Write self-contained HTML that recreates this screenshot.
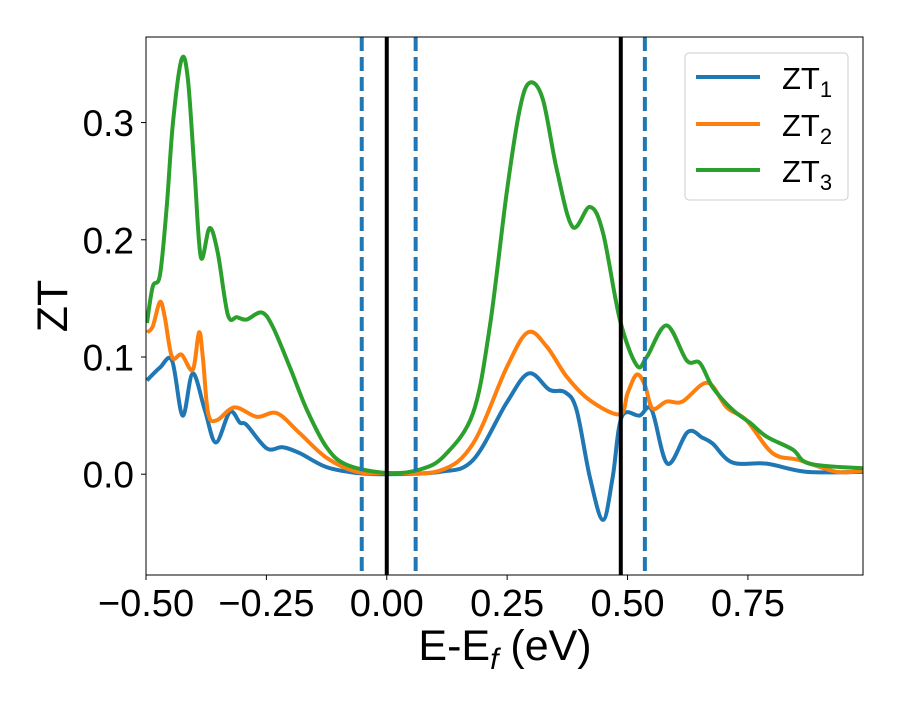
<!DOCTYPE html>
<html><head><meta charset="utf-8"><style>
body{margin:0;background:#fff}
svg{font-family:"Liberation Sans","DejaVu Sans",sans-serif}
</style></head><body>
<svg id="chart" width="900" height="700" viewBox="0 0 900 700" xmlns="http://www.w3.org/2000/svg">
<rect width="900" height="700" fill="#fff"/>
<g id="plot"></g>
</svg>
<script>
const xTicks=[-0.5,-0.25,0,0.25,0.5,0.75];
const xTickLabels=["\u22120.50","\u22120.25","0.00","0.25","0.50","0.75"];
const yTicks=[0,0.1,0.2,0.3];
const yTickLabels=["0.0","0.1","0.2","0.3"];
const solidLines=[0,0.486];
const dashedLines=[-0.052,0.06,0.536];
const zt1X=[-0.498,-0.471,-0.446,-0.424,-0.403,-0.378,-0.355,-0.326,-0.305,-0.291,-0.249,-0.216,-0.181,-0.125,-0.062,0,0.110,0.179,0.249,0.295,0.338,0.370,0.394,0.422,0.449,0.469,0.488,0.525,0.550,0.583,0.625,0.656,0.677,0.718,0.789,0.872,0.988];
const zt1Y=[0.080,0.091,0.097,0.050,0.086,0.055,0.027,0.053,0.044,0.042,0.022,0.023,0.018,0.006,0.001,0,0.002,0.012,0.061,0.086,0.072,0.070,0.055,-0.003,-0.039,-0.003,0.049,0.050,0.055,0.009,0.036,0.031,0.026,0.010,0.009,0.002,0.002];
const zt2X=[-0.498,-0.486,-0.471,-0.461,-0.446,-0.426,-0.403,-0.390,-0.382,-0.371,-0.353,-0.316,-0.270,-0.228,-0.181,-0.125,-0.062,0,0.110,0.179,0.249,0.293,0.332,0.374,0.422,0.484,0.500,0.519,0.536,0.552,0.581,0.614,0.666,0.706,0.747,0.801,0.857,0.934,0.988];
const zt2Y=[0.121,0.126,0.147,0.134,0.100,0.102,0.089,0.121,0.100,0.052,0.046,0.057,0.049,0.052,0.035,0.014,0.002,0.001,0.003,0.026,0.091,0.121,0.109,0.083,0.063,0.051,0.069,0.085,0.076,0.056,0.062,0.062,0.078,0.057,0.046,0.018,0.012,0.002,0.003];
const zt3X=[-0.498,-0.486,-0.471,-0.457,-0.444,-0.426,-0.413,-0.399,-0.386,-0.368,-0.351,-0.330,-0.311,-0.291,-0.260,-0.237,-0.201,-0.166,-0.125,-0.083,0,0.069,0.120,0.179,0.214,0.249,0.276,0.297,0.324,0.353,0.386,0.422,0.449,0.484,0.519,0.540,0.581,0.623,0.650,0.677,0.718,0.754,0.789,0.843,0.878,0.988];
const zt3Y=[0.129,0.160,0.170,0.228,0.300,0.354,0.337,0.257,0.185,0.210,0.189,0.136,0.134,0.132,0.138,0.126,0.091,0.055,0.023,0.008,0.001,0.004,0.016,0.052,0.126,0.240,0.311,0.334,0.320,0.260,0.211,0.228,0.206,0.132,0.093,0.100,0.127,0.097,0.095,0.074,0.055,0.044,0.032,0.021,0.009,0.005];

const L=146,R=863,T=37,B=575,X0=-0.5,X1=0.989,Y0=-0.086,Y1=0.373;
const sx=v=>L+(v-X0)/(X1-X0)*(R-L);
const sy=v=>B-(v-Y0)/(Y1-Y0)*(B-T);
const NS="http://www.w3.org/2000/svg";
const svg=document.getElementById('chart');
const g=document.getElementById('plot');
function mk(tag,attrs,parent){const e=document.createElementNS(NS,tag);for(const k in attrs)e.setAttribute(k,attrs[k]);(parent||g).appendChild(e);return e;}
const clip=mk('clipPath',{id:'cp'},svg);
mk('rect',{x:L,y:T,width:R-L,height:B-T},clip);
const lines=mk('g',{'clip-path':'url(#cp)'});


function path(xs,ys){
  const p=xs.map((x,i)=>[sx(x),sy(ys[i])]);
  let d=`M${p[0][0]},${p[0][1]}`;
  for(let i=0;i<p.length-1;i++){
    const p0=p[Math.max(0,i-1)],p1=p[i],p2=p[i+1],p3=p[Math.min(p.length-1,i+2)];
    const c1=[p1[0]+(p2[0]-p0[0])/6,p1[1]+(p2[1]-p0[1])/6];
    const c2=[p2[0]-(p3[0]-p1[0])/6,p2[1]-(p3[1]-p1[1])/6];
    d+=`C${c1[0]},${c1[1]} ${c2[0]},${c2[1]} ${p2[0]},${p2[1]}`;
  }
  return d;
}
const series=[[zt1X,zt1Y,'#1f77b4','zt1-line'],[zt2X,zt2Y,'#ff7f0e','zt2-line'],[zt3X,zt3Y,'#2ca02c','zt3-line']];
series.forEach(s=>{
  const e=mk('path',{d:path(s[0],s[1]),fill:'none',stroke:s[2],'stroke-width':4,'stroke-linejoin':'round'},lines);
  
  
});
dashedLines.forEach(v=>{
  const e=mk('line',{x1:sx(v),x2:sx(v),y1:T,y2:B,stroke:'#1f77b4','stroke-width':4,'stroke-dasharray':'14,6'},lines);
  
  
});
solidLines.forEach(v=>{
  const e=mk('line',{x1:sx(v),x2:sx(v),y1:T,y2:B,stroke:'#000','stroke-width':4},lines);
  
  
});
const frame=mk('rect',{x:L,y:T,width:R-L,height:B-T,fill:'none',stroke:'#000','stroke-width':1});


xTicks.forEach((v,i)=>{
  const tk=mk('line',{x1:sx(v),x2:sx(v),y1:B,y2:B+5,stroke:'#000','stroke-width':1});
  
  
  const t=mk('text',{x:sx(v),y:B+41,'text-anchor':'middle','font-size':38});
  t.textContent=xTickLabels[i];
  
  
});
yTicks.forEach((v,i)=>{
  const tk=mk('line',{x1:L-5,x2:L,y1:sy(v),y2:sy(v),stroke:'#000','stroke-width':1});
  
  
  const t=mk('text',{x:L-12,y:sy(v)+13.5,'text-anchor':'end','font-size':37});
  t.textContent=yTickLabels[i];
  
  
});
</script>
<svg style="position:absolute;left:0;top:0" width="900" height="700">
<text x="505" y="660" text-anchor="middle" font-size="43" font-family="Liberation Sans, sans-serif">E-E<tspan font-style="italic" font-size="30" dy="9">f</tspan><tspan dy="-9"> (eV)</tspan></text>
<text transform="translate(67,306) rotate(-90)" text-anchor="middle" font-size="43" font-family="Liberation Sans, sans-serif">ZT</text>
<g font-family="Liberation Sans, sans-serif">
<rect x="685" y="53" width="163" height="147" rx="4" fill="#fff" fill-opacity="0.8" stroke="#ccc" stroke-width="1"/>
<g><line x1="696" x2="760" y1="77" y2="77" stroke="#1f77b4" stroke-width="4"/><text x="782" y="89" font-size="31">ZT<tspan font-size="22" dy="8">1</tspan></text></g>
<g><line x1="696" x2="760" y1="124" y2="124" stroke="#ff7f0e" stroke-width="4"/><text x="782" y="136" font-size="31">ZT<tspan font-size="22" dy="8">2</tspan></text></g>
<g><line x1="696" x2="760" y1="170" y2="170" stroke="#2ca02c" stroke-width="4"/><text x="782" y="182" font-size="31">ZT<tspan font-size="22" dy="8">3</tspan></text></g>
</g>
</svg>
</body></html>
